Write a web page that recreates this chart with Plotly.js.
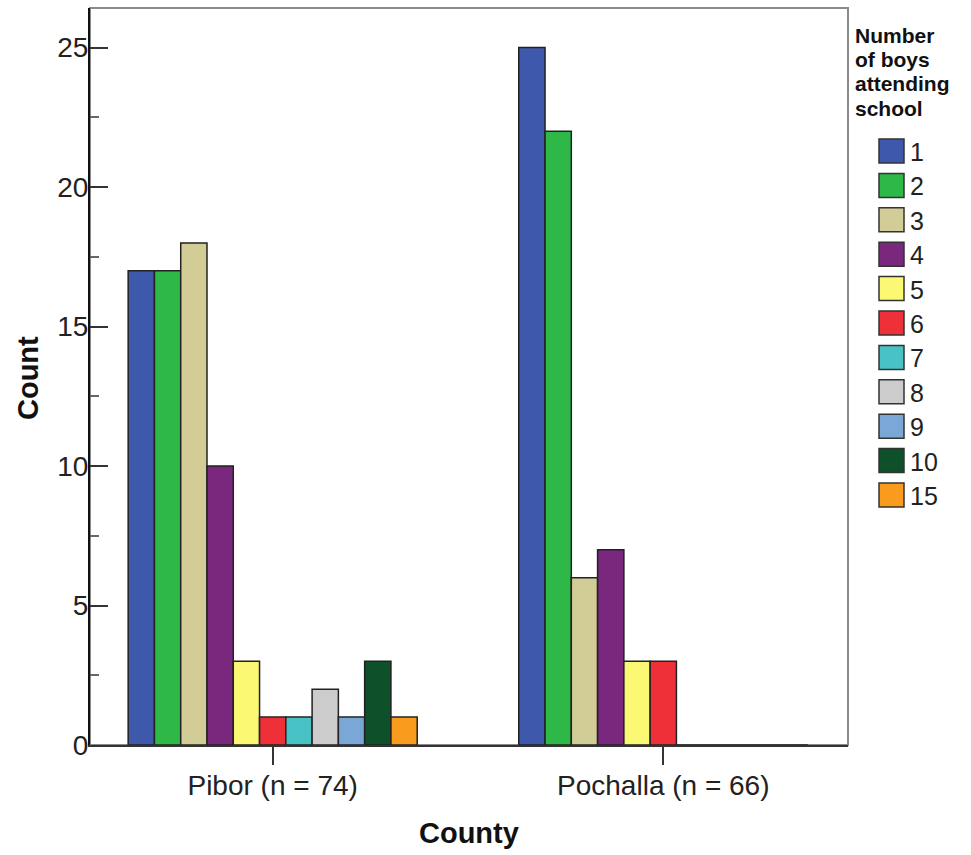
<!DOCTYPE html>
<html>
<head>
<meta charset="utf-8">
<script src="https://cdn.plot.ly/plotly-3.0.1.min.js"></script>
<style>html,body{margin:0;padding:0;background:#fff;}#chart{width:971px;height:855px;}</style>
</head>
<body>
<div id="chart"></div>
<script>
const counties = ['Pibor (n = 74)', 'Pochalla (n = 66)'];
const boysCategories = ['1','2','3','4','5','6','7','8','9','10','15'];
const piborCounts = [17, 17, 18, 10, 3, 1, 1, 2, 1, 3, 1];
const pochallaCounts = [25, 22, 6, 7, 3, 3, 0, 0, 0, 0, 0];
const barColors = ['#3E58AC','#2EB848','#D2CC96','#79287E','#FBF873','#EF3038','#48C2C5','#CCCCCC','#7BA7D7','#0D5029','#F99B1C'];
const legendTitleLines = ['Number', 'of boys', 'attending', 'school'];
const xTitle = 'County';
const yTitle = 'Count';

const FONT = 'Liberation Sans, Arial, sans-serif';
const L = 90, R = 848, T = 8, B = 745;
const px2x = px => (px - L) / (R - L);
const py2y = py => (B - py) / (B - T);

const traces = boysCategories.map((cat, i) => ({
  type: 'bar',
  name: cat,
  x: counties,
  y: [piborCounts[i], pochallaCounts[i]],
  marker: { color: barColors[i], line: { color: '#222', width: 1.5 } },
  showlegend: false,
  hoverinfo: 'x+y+name'
}));

const shapes = [{
  type: 'rect', xref: 'paper', yref: 'paper', x0: 0, x1: 1, y0: 0, y1: 1,
  line: { color: '#8a8a8a', width: 2 }, layer: 'below'
}];
const annotations = [];
legendTitleLines.forEach((line, j) => {
  annotations.push({
    text: '<b>' + line + '</b>', xref: 'paper', yref: 'paper',
    x: px2x(853), y: py2y(35 + j * 24.4), xanchor: 'left', yanchor: 'middle', align: 'left',
    showarrow: false, font: { family: FONT, size: 21, color: '#111' }
  });
});
boysCategories.forEach((cat, i) => {
  const cy = 151 + i * 34.4;
  shapes.push({
    type: 'rect', xref: 'paper', yref: 'paper',
    x0: px2x(879), x1: px2x(904), y0: py2y(cy + 12), y1: py2y(cy - 12),
    fillcolor: barColors[i], line: { color: '#333', width: 1.5 }
  });
  annotations.push({
    text: cat, xref: 'paper', yref: 'paper', x: px2x(908), y: py2y(cy + 1),
    xanchor: 'left', yanchor: 'middle', showarrow: false,
    font: { family: FONT, size: 25, color: '#222' }
  });
});
annotations.push({
  text: '<b>' + yTitle + '</b>', xref: 'paper', yref: 'paper', textangle: -90,
  x: px2x(28), y: py2y(378), xanchor: 'center', yanchor: 'middle', showarrow: false,
  font: { family: FONT, size: 29, color: '#111' }
});
annotations.push({
  text: '<b>' + xTitle + '</b>', xref: 'paper', yref: 'paper',
  x: px2x(469), y: py2y(833), xanchor: 'center', yanchor: 'middle', showarrow: false,
  font: { family: FONT, size: 29, color: '#111' }
});

const layout = {
  width: 971, height: 855,
  margin: { l: L, r: 971 - R, t: T, b: 855 - B },
  paper_bgcolor: '#fff', plot_bgcolor: '#fff',
  font: { family: FONT, color: '#222' },
  barmode: 'group', bargap: 0.26, bargroupgap: 0,
  showlegend: false,
  xaxis: {
    type: 'category', range: [-0.4677, 1.4729],
    showline: true, linecolor: '#333', linewidth: 2,
    ticks: 'outside', ticklen: 18, tickwidth: 2, tickcolor: '#333',
    ticklabelstandoff: -4,
    tickfont: { family: FONT, size: 28, color: '#222' },
    showgrid: false, zeroline: false
  },
  yaxis: {
    range: [0, 26.42], tickvals: [0, 5, 10, 15, 20, 25],
    showline: true, linecolor: '#111', linewidth: 2,
    ticks: 'inside', ticklen: 18, tickwidth: 2, tickcolor: '#333',
    ticklabelstandoff: -6,
    minor: { ticks: 'inside', ticklen: 9, tickwidth: 2, tickcolor: '#666', dtick: 2.5 },
    tickfont: { family: FONT, size: 28, color: '#222' },
    showgrid: false, zeroline: false
  },
  shapes: shapes,
  annotations: annotations
};

Plotly.newPlot('chart', traces, layout, { displayModeBar: false, staticPlot: true });
</script>
</body>
</html>
